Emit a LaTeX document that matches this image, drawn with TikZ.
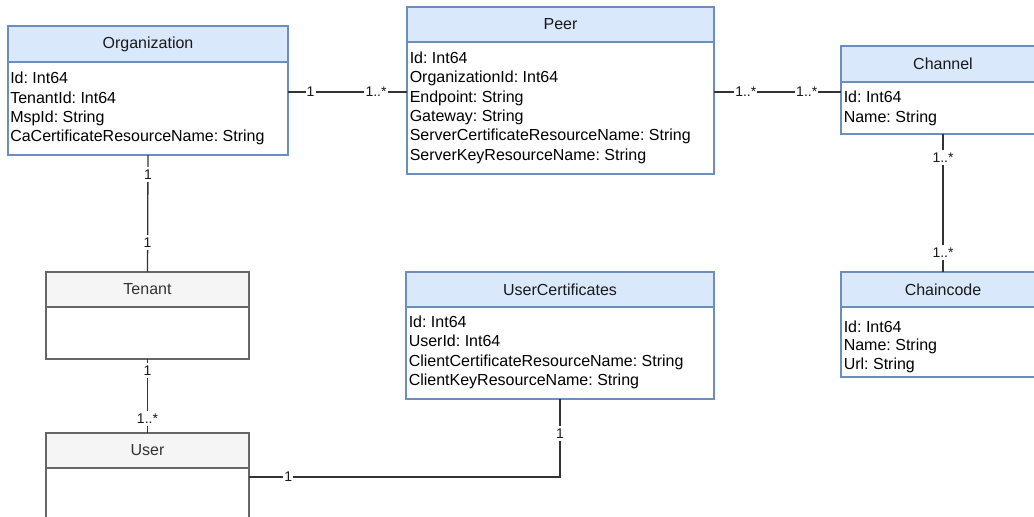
\documentclass[tikz,border=0pt]{standalone}
\usepackage{fontspec}
\setmainfont{Liberation Sans}
\frenchspacing
\definecolor{hdrblue}{HTML}{DAE8FC}
\definecolor{lineblue}{HTML}{6C8EBF}
\definecolor{hdrgray}{HTML}{F5F5F5}
\definecolor{linegray}{HTML}{666666}
\definecolor{titlegray}{HTML}{333333}
\definecolor{conncol}{HTML}{333333}
\tikzset{
  boxbase/.style={rectangle, inner sep=0pt, outer sep=0pt, line width=1pt, anchor=north west},
  hblue/.style={boxbase, draw=lineblue, fill=hdrblue, text=black!90, font=\fontsize{12}{14.5}\selectfont},
  bblue/.style={boxbase, draw=lineblue, fill=white},
  hgray/.style={boxbase, draw=linegray, fill=hdrgray, text=titlegray, font=\fontsize{12}{14.5}\selectfont},
  bgray/.style={boxbase, draw=linegray, fill=white},
  attr/.style={inner sep=0pt, anchor=base west, font=\fontsize{12}{14.5}\selectfont},
  conn/.style={draw=conncol, line width=1pt},
  mult/.style={fill=white, inner xsep=0.8pt, inner ysep=2pt, text=black!90, font=\fontsize{10.5}{12}\selectfont},
}
\begin{document}
\begin{tikzpicture}[x=0.75pt, y=-0.75pt]
\useasboundingbox (0,0) rectangle (1034,517);
\clip (0,0) rectangle (1034,517);

% Organization
\node[bblue, minimum width=0.75*280pt, minimum height=0.75*93pt] (orgbody) at (8,62) {};
\node[hblue, minimum width=0.75*280pt, minimum height=0.75*36pt] (org) at (8,26) {Organization};
\foreach \t [count=\i] in {Id: Int64, TenantId: Int64, MspId: String, CaCertificateResourceName: String}
  \node[attr] (org-\i) at (10, {83.7+(\i-1)*19.4}) {\t};

% Peer
\node[bblue, minimum width=0.75*307pt, minimum height=0.75*132pt] (peerbody) at (407,42) {};
\node[hblue, minimum width=0.75*307pt, minimum height=0.75*35pt] (peer) at (407,7) {Peer};
\foreach \t [count=\i] in {Id: Int64, OrganizationId: Int64, Endpoint: String, Gateway: String, ServerCertificateResourceName: String, ServerKeyResourceName: String}
  \node[attr] (peer-\i) at (409.5, {63.7+(\i-1)*19.3}) {\t};

% Channel
\node[bblue, minimum width=0.75*204pt, minimum height=0.75*52pt] (chbody) at (841,82) {};
\node[hblue, minimum width=0.75*204pt, minimum height=0.75*36pt] (ch) at (841,46) {Channel};
\foreach \t [count=\i] in {Id: Int64, Name: String}
  \node[attr] (ch-\i) at (843.5, {102.7+(\i-1)*19.4}) {\t};

% Chaincode
\node[bblue, minimum width=0.75*204pt, minimum height=0.75*70pt] (ccbody) at (841,307) {};
\node[hblue, minimum width=0.75*204pt, minimum height=0.75*35pt] (cc) at (841,272) {Chaincode};
\foreach \t [count=\i] in {Id: Int64, Name: String, Url: String}
  \node[attr] (cc-\i) at (843.5, {332.4+(\i-1)*18.4}) {\t};

% UserCertificates
\node[bblue, minimum width=0.75*308pt, minimum height=0.75*92pt] (ucbody) at (406,307) {};
\node[hblue, minimum width=0.75*308pt, minimum height=0.75*35pt] (uc) at (406,272) {UserCertificates};
\foreach \t [count=\i] in {Id: Int64, UserId: Int64, ClientCertificateResourceName: String, ClientKeyResourceName: String}
  \node[attr] (uc-\i) at (408.5, {327.4+(\i-1)*19.4}) {\t};

% Tenant
\node[bgray, minimum width=0.75*203pt, minimum height=0.75*52pt] (tenbody) at (46,307) {};
\node[hgray, minimum width=0.75*203pt, minimum height=0.75*35pt] (ten) at (46,272) {Tenant};

% User
\node[bgray, minimum width=0.75*203pt, minimum height=0.75*90pt] (userbody) at (46,468) {};
\node[hgray, minimum width=0.75*203pt, minimum height=0.75*35pt] (user) at (46,433) {User};

% Associations
\coordinate (rowtop) at (0,92);
\coordinate (rowuser) at (0,477);

\draw[conn] (orgbody.east |- rowtop) -- node[mult, pos=0.19] {1} node[mult, pos=0.74] {1..*} (peerbody.west |- rowtop);
\draw[conn] (peerbody.east |- rowtop) -- node[mult, pos=0.25] {1..*} node[mult, pos=0.73] {1..*} (chbody.west |- rowtop);
\draw[conn] (chbody.south) -- node[mult, pos=0.17] {1..*} node[mult, pos=0.86] {1..*} (cc.north);
\draw[conn] (orgbody.south) -- node[mult, pos=0.17] {1} node[mult, pos=0.75] {1} (ten.north);
\draw[conn] (tenbody.south) -- node[mult, pos=0.16] {1} node[mult, pos=0.81] {1..*} (user.north);
\draw[conn] (userbody.east |- rowuser) -| node[mult, pos=0.063] {1} node[mult, pos=0.78] {1} (ucbody.south);
\end{tikzpicture}
\end{document}
